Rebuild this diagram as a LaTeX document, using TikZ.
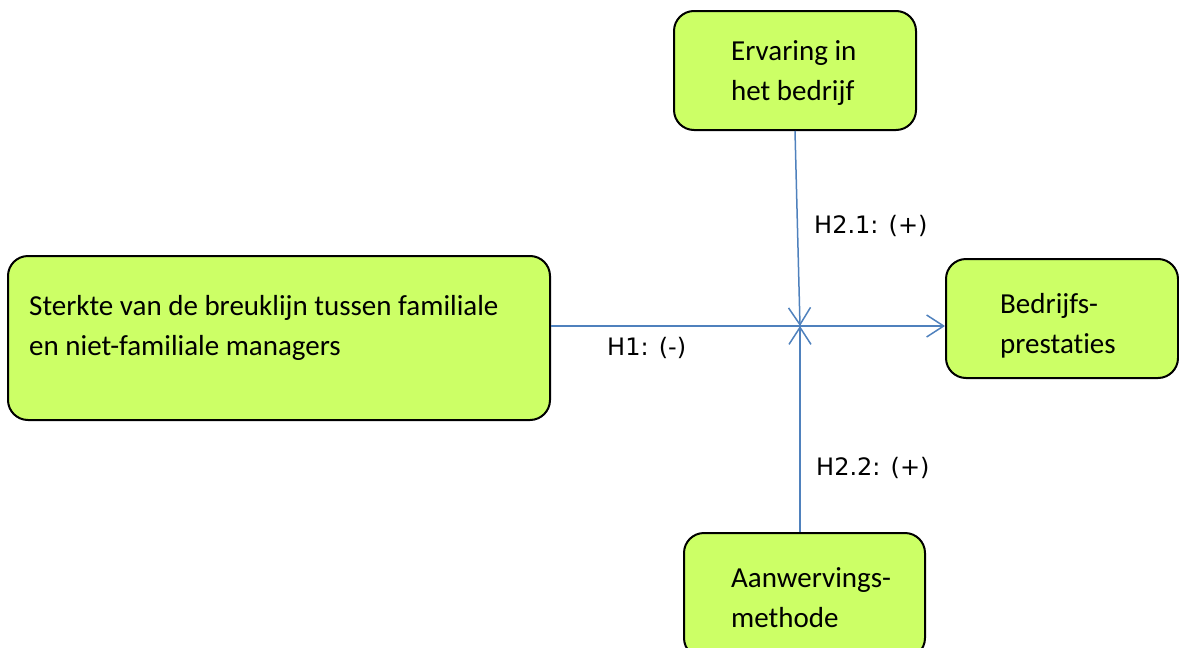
\documentclass[tikz,border=0pt]{standalone}
\usepackage{fontspec}
\setmainfont{Carlito}[Ligatures={NoCommon}]
\newfontfamily\hypfont{DejaVu Sans}
\usepackage{xcolor}
\usetikzlibrary{arrows.meta,positioning,calc}
\definecolor{boxgreen}{HTML}{CCFF66}
\definecolor{linkblue}{HTML}{4F81BD}

\begin{document}
\begin{tikzpicture}[
  x=1pt, y=-1pt,
  box/.style={draw, line width=2pt, rounded corners=20pt, fill=boxgreen, inner sep=0pt},
  txt/.style={anchor=base west, align=left, inner sep=0pt, font=\fontsize{29}{40}\selectfont},
  hyp/.style={anchor=base west, inner sep=0pt, font=\hypfont\fontsize{24}{28}\selectfont},
  link/.style={-{Straight Barb[length=17pt, width=22pt]}, line width=1.5pt, draw=linkblue},
]
\useasboundingbox (0,0) rectangle (1179,648);
% boxes
\node[box, minimum width=542pt, minimum height=164pt] (breuklijn) at (279,338) {};
\node[box, minimum width=242pt, minimum height=119pt] (ervaring) at (795,70.5) {};
\node[box, minimum width=232pt, minimum height=119pt] (prestaties) at (1062,318.5) {};
\node[box, minimum width=241pt, minimum height=125pt] (methode) at (804.5,595.5) {};
% box texts (base = last line)
\node[txt] (breuklijntxt) at (29,355) {Sterkte van de breuklijn tussen familiale\\en niet-familiale managers};
\node[txt] (ervaringtxt) at (731,100) {Ervaring in\\het bedrijf};
\node[txt] (prestatiestxt) at (1000,353) {Bedrijfs-\\prestaties};
\node[txt] (methodetxt) at (731,627) {Aanwervings-\\methode};
% meeting point of the three hypotheses
\coordinate (hub) at (800,326);
\draw[link] (breuklijn.east |- hub) -- (prestaties.west |- hub);
\draw[link] (ervaring.south) -- (hub);
\draw[link] (hub |- methode.north) -- (hub);
% hypothesis labels
\node[hyp] (h21) at (814,233) {H2.1: (+)};
\node[hyp] (h1) at (607,355) {H1: (-)};
\node[hyp] (h22) at (816,475) {H2.2: (+)};
\end{tikzpicture}
\end{document}
